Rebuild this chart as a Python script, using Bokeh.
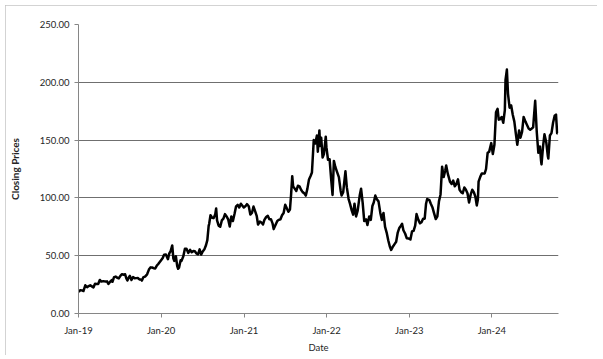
import pandas as pd
from datetime import datetime
from bokeh.plotting import figure
from bokeh.models import Range1d, FixedTicker, DatetimeTickFormatter, NumeralTickFormatter, ColumnDataSource
from bokeh.embed import file_html
from bokeh.resources import INLINE

dates = [
    "2019-01-02","2019-01-09","2019-01-16","2019-01-23","2019-01-31","2019-02-08","2019-02-15","2019-02-22",
    "2019-03-01","2019-03-08","2019-03-15","2019-03-22","2019-03-29","2019-04-05","2019-04-12","2019-04-22",
    "2019-04-30","2019-05-07","2019-05-13","2019-05-21","2019-05-28","2019-05-31","2019-06-07","2019-06-14",
    "2019-06-21","2019-06-28","2019-07-05","2019-07-12","2019-07-19","2019-07-26","2019-07-31","2019-08-05",
    "2019-08-12","2019-08-16","2019-08-23","2019-08-30","2019-09-06","2019-09-13","2019-09-20","2019-09-27",
    "2019-10-04","2019-10-08","2019-10-15","2019-10-22","2019-10-31","2019-11-08","2019-11-15","2019-11-22",
    "2019-11-29","2019-12-06","2019-12-13","2019-12-20","2019-12-31",
    "2020-01-08","2020-01-14","2020-01-22","2020-01-31","2020-02-06","2020-02-12","2020-02-19","2020-02-24",
    "2020-02-28","2020-03-06","2020-03-12","2020-03-16","2020-03-20","2020-03-27","2020-03-31","2020-04-08",
    "2020-04-15","2020-04-22","2020-04-30","2020-05-08","2020-05-15","2020-05-22","2020-05-29","2020-06-05",
    "2020-06-12","2020-06-19","2020-06-26","2020-07-02","2020-07-10","2020-07-17","2020-07-23","2020-07-29",
    "2020-07-31","2020-08-06","2020-08-13","2020-08-20","2020-08-27","2020-08-31","2020-09-04","2020-09-11",
    "2020-09-18","2020-09-25","2020-10-02","2020-10-09","2020-10-16","2020-10-23","2020-10-30","2020-11-06",
    "2020-11-13","2020-11-20","2020-11-27","2020-12-04","2020-12-11","2020-12-18","2020-12-31",
    "2021-01-08","2021-01-14","2021-01-22","2021-01-29","2021-02-05","2021-02-12","2021-02-19","2021-02-26",
    "2021-03-04","2021-03-12","2021-03-19","2021-03-26","2021-04-01","2021-04-09","2021-04-16","2021-04-23",
    "2021-04-30","2021-05-07","2021-05-12","2021-05-21","2021-05-28","2021-06-04","2021-06-11","2021-06-18",
    "2021-06-25","2021-07-02","2021-07-09","2021-07-16","2021-07-23","2021-07-28","2021-08-02","2021-08-06",
    "2021-08-13","2021-08-20","2021-08-27","2021-09-03","2021-09-10","2021-09-17","2021-09-24","2021-10-01",
    "2021-10-08","2021-10-15","2021-10-22","2021-10-28","2021-11-05","2021-11-12","2021-11-19","2021-11-23",
    "2021-11-30","2021-12-03","2021-12-08","2021-12-14","2021-12-20","2021-12-28","2021-12-31",
    "2022-01-07","2022-01-14","2022-01-21","2022-01-27","2022-02-02","2022-02-08","2022-02-15","2022-02-24",
    "2022-03-04","2022-03-08","2022-03-15","2022-03-25","2022-03-31","2022-04-08","2022-04-14","2022-04-22",
    "2022-04-28","2022-05-04","2022-05-11","2022-05-18","2022-05-27","2022-06-02","2022-06-09","2022-06-16",
    "2022-06-24","2022-06-30","2022-07-08","2022-07-15","2022-07-22","2022-07-28","2022-08-04","2022-08-10",
    "2022-08-18","2022-08-26","2022-09-02","2022-09-09","2022-09-16","2022-09-23","2022-09-30","2022-10-07",
    "2022-10-13","2022-10-21","2022-10-28","2022-11-04","2022-11-11","2022-11-18","2022-11-25","2022-11-30",
    "2022-12-06","2022-12-14","2022-12-21","2022-12-30",
    "2023-01-06","2023-01-13","2023-01-20","2023-01-27","2023-02-02","2023-02-10","2023-02-17","2023-02-24",
    "2023-03-03","2023-03-10","2023-03-16","2023-03-21","2023-03-31","2023-04-06","2023-04-13","2023-04-20",
    "2023-04-28","2023-05-05","2023-05-12","2023-05-19","2023-05-26","2023-06-02","2023-06-09","2023-06-13",
    "2023-06-20","2023-06-30","2023-07-07","2023-07-14","2023-07-21","2023-07-28","2023-08-04","2023-08-11",
    "2023-08-18","2023-08-25","2023-09-01","2023-09-08","2023-09-15","2023-09-22","2023-09-29","2023-10-06",
    "2023-10-13","2023-10-20","2023-10-26","2023-10-31","2023-11-03","2023-11-10","2023-11-17","2023-11-24",
    "2023-11-30","2023-12-06","2023-12-13","2023-12-20","2023-12-29",
    "2024-01-05","2024-01-12","2024-01-19","2024-01-26","2024-01-31","2024-02-06","2024-02-13","2024-02-20",
    "2024-02-27","2024-03-01","2024-03-07","2024-03-12","2024-03-19","2024-03-26","2024-04-02","2024-04-09",
    "2024-04-16","2024-04-22","2024-04-30","2024-05-06","2024-05-13","2024-05-20","2024-05-28","2024-06-04",
    "2024-06-11","2024-06-18","2024-06-25","2024-07-01","2024-07-10","2024-07-17","2024-07-24","2024-07-31",
    "2024-08-05","2024-08-07","2024-08-14","2024-08-20","2024-08-28","2024-09-04","2024-09-06","2024-09-13",
    "2024-09-20","2024-09-27","2024-10-04","2024-10-10","2024-10-15","2024-10-18",
]

closing_prices = [
    18.8,20.2,20.0,19.5,24.4,22.7,23.7,24.4,
    23.5,22.6,25.7,25.5,25.5,29.0,27.6,28.0,
    27.6,27.8,25.6,27.5,29.0,27.4,31.5,31.9,
    30.9,30.4,32.6,34.0,33.5,33.9,30.5,28.5,
    31.6,32.5,29.0,31.5,30.5,30.6,30.7,29.5,
    29.5,28.5,31.5,31.9,33.9,38.0,39.9,39.8,
    39.2,39.0,41.5,43.0,45.9,
    48.0,50.8,51.0,47.0,52.0,54.0,58.9,47.5,
    45.5,49.5,41.0,38.7,39.6,46.0,45.5,49.5,
    56.0,56.0,52.4,55.0,53.0,54.0,53.8,52.0,
    51.2,55.5,51.0,53.5,55.5,59.0,63.5,76.1,
    77.4,85.0,82.8,82.5,86.0,90.8,80.5,76.0,
    75.0,80.5,82.0,86.0,84.0,81.5,75.3,84.0,
    80.0,86.0,92.7,94.0,91.7,95.0,91.7,
    93.0,94.6,92.8,85.6,87.0,92.5,88.5,84.5,
    77.0,79.5,78.7,77.0,81.0,83.5,84.5,81.5,
    81.6,78.0,73.0,77.0,80.0,81.0,81.5,85.0,
    87.0,94.0,91.0,88.0,90.0,103.0,118.8,110.0,
    108.0,106.0,110.5,110.0,107.0,105.0,104.0,102.0,
    108.0,116.0,119.0,122.0,150.0,147.0,154.0,140.0,
    158.4,145.0,152.0,135.0,138.0,153.0,143.9,
    133.0,133.5,116.0,102.6,132.0,127.0,123.0,118.0,
    106.0,102.0,105.0,123.0,109.3,99.0,95.0,89.0,
    85.5,95.0,84.0,89.0,102.0,108.0,96.0,80.0,
    81.5,76.5,84.0,81.0,93.0,96.0,102.0,99.0,
    97.0,87.0,81.0,87.0,75.0,70.0,63.4,58.0,
    55.0,58.0,60.0,62.0,70.0,74.0,76.0,77.6,
    72.0,69.0,65.0,64.8,
    64.0,71.0,71.5,76.0,86.0,81.0,78.0,79.0,
    82.0,82.0,95.0,99.0,98.0,95.0,92.0,87.0,
    81.7,84.0,97.0,103.0,127.0,118.0,124.0,128.0,
    121.0,113.9,112.0,115.0,110.0,112.0,116.0,107.0,
    105.0,104.0,109.0,107.0,104.0,96.0,102.8,107.0,
    105.0,101.0,93.5,98.5,114.0,118.0,121.0,121.0,
    121.2,125.0,139.0,140.0,147.4,
    138.0,146.0,174.0,177.0,167.7,168.0,170.0,165.0,
    176.0,202.0,211.0,190.0,178.0,180.0,172.0,166.0,
    155.0,146.0,158.4,152.0,157.0,170.0,166.0,163.0,
    160.0,159.0,160.0,161.0,184.0,157.0,139.0,144.5,
    132.0,129.0,145.0,155.0,148.0,136.0,134.0,154.0,
    156.0,165.0,171.0,172.0,156.0,156.0,
]

y_ticks = [0, 50, 100, 150, 200, 250]
x_tick_years = [2019, 2020, 2021, 2022, 2023, 2024]

src = ColumnDataSource(dict(date=pd.to_datetime(dates), price=closing_prices))

p = figure(width=592, height=350, output_backend="svg", toolbar_location=None,
           x_axis_type="datetime",
           x_range=Range1d(datetime(2019, 1, 1), datetime(2024, 10, 21)),
           y_range=Range1d(0, 250),
           min_border_left=69, min_border_right=39, min_border_top=19, min_border_bottom=40)
p.styles = {"margin-left": "5px", "margin-top": "5px",
            "outline": "1px solid #c4c4c4", "outline-offset": "-1px"}
p.outline_line_color = None
p.background_fill_color = "white"
p.border_fill_color = "white"

p.line("date", "price", source=src, line_color="black", line_width=2.5, line_join="round")

font = "Lato"
text_col = "#262626"
axis_col = "#868686"

p.xaxis.ticker = FixedTicker(ticks=[pd.Timestamp(f"{y}-01-01").value // 10**6 for y in x_tick_years])
fmt = "%b-%y"
p.xaxis.formatter = DatetimeTickFormatter(years=fmt, months=fmt, days=fmt, hours=fmt, minutes=fmt,
                                          hourmin=fmt, seconds=fmt, milliseconds=fmt, microseconds=fmt,
                                          minsec=fmt)
p.yaxis.ticker = FixedTicker(ticks=y_ticks)
p.yaxis.formatter = NumeralTickFormatter(format="0.00")

for ax in (p.xaxis[0], p.yaxis[0]):
    ax.axis_line_color = axis_col
    ax.major_tick_line_color = axis_col
    ax.major_tick_out = 4
    ax.major_tick_in = 0
    ax.minor_tick_line_color = None
    ax.major_label_text_font = font
    ax.major_label_text_font_size = "9.5px"
    ax.major_label_text_color = text_col
    ax.axis_label_text_font = font
    ax.axis_label_text_color = text_col

p.xaxis.axis_label = "Date"
p.xaxis.axis_label_text_font_style = "normal"
p.xaxis.axis_label_text_font_size = "9.5px"
p.xaxis.major_label_standoff = 7
p.xaxis.axis_label_standoff = 3

p.yaxis.axis_label = "Closing Prices"
p.yaxis.axis_label_text_font_style = "bold"
p.yaxis.axis_label_text_font_size = "10px"
p.yaxis.major_label_standoff = 5
p.yaxis.axis_label_standoff = 16

p.xgrid.grid_line_color = None
p.ygrid.ticker = FixedTicker(ticks=y_ticks)
p.ygrid.grid_line_color = "#6f6f6f"
p.ygrid.grid_line_width = 1

open("out.html", "w").write(file_html(p, INLINE))
